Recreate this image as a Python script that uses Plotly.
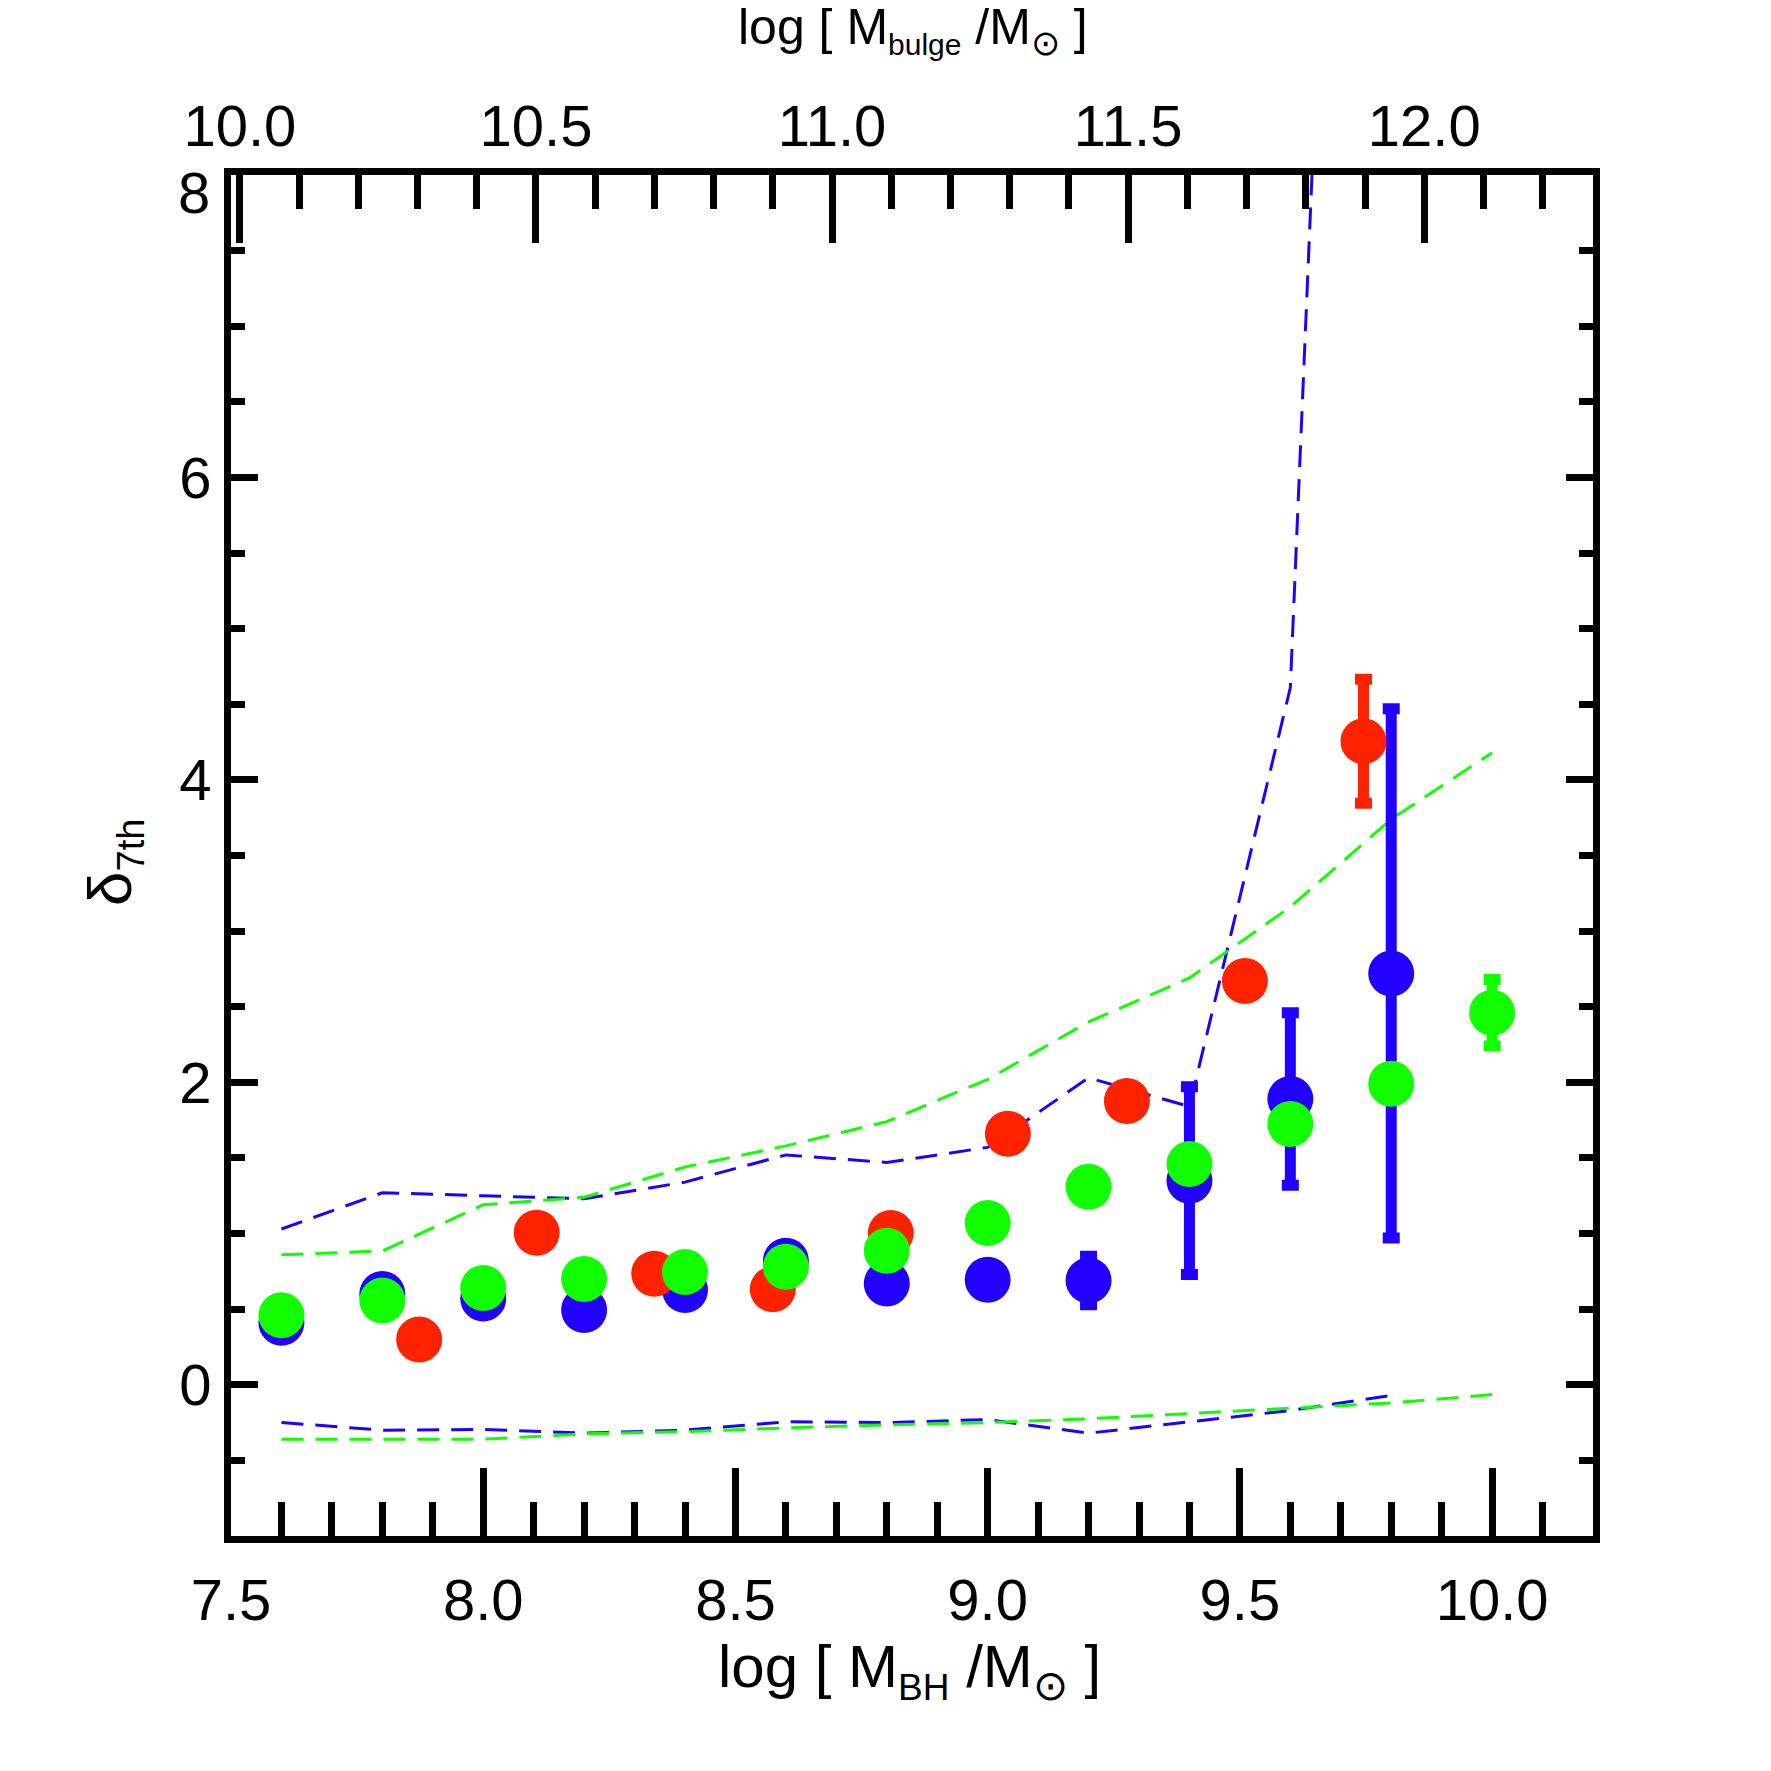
import plotly.graph_objects as go

# ---------------- data ----------------
x_bh = [7.6, 7.8, 8.0, 8.2, 8.4, 8.6, 8.8, 9.0, 9.2, 9.4, 9.6, 9.8, 10.0]
x_bh_blue = x_bh[:12]

blue_y = [0.41, 0.60, 0.57, 0.495, 0.627, 0.82, 0.67, 0.695, 0.69, 1.35, 1.89, 2.72]
blue_err = [0, 0, 0, 0, 0, 0, 0, 0, 0.16, 0.62, 0.57, 1.75]

green_y = [0.46, 0.557, 0.64, 0.70, 0.746, 0.78, 0.887, 1.07, 1.31, 1.46, 1.725, 1.99, 2.46]
green_err = [0, 0, 0, 0, 0, 0, 0, 0, 0, 0, 0, 0, 0.22]

red_x = [7.873, 8.106, 8.339, 8.574, 8.808, 9.04, 9.276, 9.51, 9.745]
red_y = [0.30, 1.006, 0.735, 0.632, 1.004, 1.66, 1.876, 2.67, 4.255]
red_err = [0, 0, 0, 0, 0, 0, 0, 0, 0.41]

blue_upper = [1.03, 1.27, 1.25, 1.23, 1.34, 1.52, 1.47, 1.57, 2.03, 1.84, 4.61, 20.4]
blue_lower = [-0.25, -0.30, -0.295, -0.32, -0.30, -0.245, -0.25, -0.23, -0.32, -0.245, -0.17, -0.07]
green_upper = [0.86, 0.885, 1.19, 1.24, 1.44, 1.58, 1.74, 2.02, 2.40, 2.69, 3.16, 3.74, 4.18]
green_lower = [-0.36, -0.36, -0.36, -0.325, -0.31, -0.285, -0.265, -0.25, -0.225, -0.19, -0.155, -0.12, -0.065]

x_range = [7.5, 10.2]
x2_range = [9.985, 12.285]
y_range = [-1, 8]
y_tickvals = [0, 2, 4, 6, 8]
y_ticktext = ["0", "2", "4", "6", ""]   # the top "8" is placed slightly lower, as in the original

RED = "#FF2200"
BLUE = "#2200FF"
GREEN = "#11FF00"
FONT = "Liberation Sans, Arial, Helvetica, sans-serif"

fig = go.Figure()

dash = "22px,12px"
for yy, col in [(blue_upper, BLUE), (blue_lower, BLUE)]:
    fig.add_trace(go.Scatter(x=x_bh_blue, y=yy, mode="lines",
                             line=dict(color=col, width=3, dash=dash),
                             showlegend=False, hoverinfo="skip"))
for yy, col in [(green_upper, GREEN), (green_lower, GREEN)]:
    fig.add_trace(go.Scatter(x=x_bh, y=yy, mode="lines",
                             line=dict(color=col, width=3, dash=dash),
                             showlegend=False, hoverinfo="skip"))


def pts(x, y, err, col):
    return go.Scatter(x=x, y=y, mode="markers",
                      marker=dict(color=col, size=46, symbol="circle", line=dict(width=0)),
                      error_y=dict(type="data", array=err, visible=True, color=col,
                                   thickness=11, width=8.5),
                      showlegend=False)


fig.add_trace(pts(x_bh_blue, blue_y, blue_err, BLUE))
fig.add_trace(pts(red_x, red_y, red_err, RED))
fig.add_trace(pts(x_bh, green_y, green_err, GREEN))

# empty trace so that the top (bulge-mass) axis is drawn
fig.add_trace(go.Scatter(x=[], y=[], xaxis="x2", yaxis="y", mode="markers",
                         showlegend=False, hoverinfo="skip"))

axis_common = dict(showgrid=False, zeroline=False, showline=True, linecolor="black",
                   linewidth=7, ticks="inside", tickcolor="black", tickwidth=7,
                   tickfont=dict(family=FONT, size=58, color="black"))

fig.update_layout(
    width=1771, height=1771,
    margin=dict(l=231, r=178, t=175, b=235),
    paper_bgcolor="white", plot_bgcolor="white",
    font=dict(family=FONT, color="black"),
    xaxis=dict(range=x_range, tick0=7.5, dtick=0.5, ticklen=68, tickformat=".1f",
               minor=dict(dtick=0.1, tick0=7.5, ticklen=34, tickwidth=7, tickcolor="black",
                          ticks="inside", showgrid=False),
               mirror=False, ticklabelstandoff=7, **axis_common),
    xaxis2=dict(range=x2_range, overlaying="x", side="top", anchor="y",
                tick0=10.0, dtick=0.5, ticklen=68, tickformat=".1f",
                minor=dict(dtick=0.1, tick0=10.0, ticklen=34, tickwidth=7, tickcolor="black",
                           ticks="inside", showgrid=False),
                ticklabelstandoff=-1, **axis_common),
    yaxis=dict(range=y_range, tickmode="array", tickvals=y_tickvals, ticktext=y_ticktext,
               ticklen=27,
               minor=dict(dtick=0.5, tick0=0, ticklen=14, tickwidth=7, tickcolor="black",
                          ticks="inside", showgrid=False),
               mirror="ticks", ticklabelstandoff=1, **axis_common),
)

fig.add_annotation(xref="paper", yref="y", x=-0.0143, y=y_tickvals[-1], yshift=-17,
                   xanchor="right", yanchor="middle", showarrow=False,
                   text=str(y_tickvals[-1]),
                   font=dict(family=FONT, size=58, color="black"))
fig.add_annotation(xref="paper", yref="paper", x=0.4985, y=-0.099,
                   xanchor="center", yanchor="middle", showarrow=False,
                   text='log [ M<sub><span style="font-size:37px">BH</span></sub> /M<sub><span style="font-size:42px">⊙</span></sub> ]',
                   font=dict(family=FONT, size=60, color="black"))
fig.add_annotation(xref="paper", yref="paper", x=0.501, y=1.1065,
                   xanchor="center", yanchor="middle", showarrow=False,
                   text='log [ M<sub><span style="font-size:30px">bulge</span></sub> /M<sub><span style="font-size:35px">⊙</span></sub> ]',
                   font=dict(family=FONT, size=50, color="black"))
fig.add_annotation(xref="paper", yref="paper", x=-0.0862, y=0.495,
                   xanchor="center", yanchor="middle", showarrow=False, textangle=-90,
                   text='δ<sub><span style="font-size:38px">7th</span></sub>',
                   font=dict(family=FONT, size=62, color="black"))

fig.write_html("out.html")
